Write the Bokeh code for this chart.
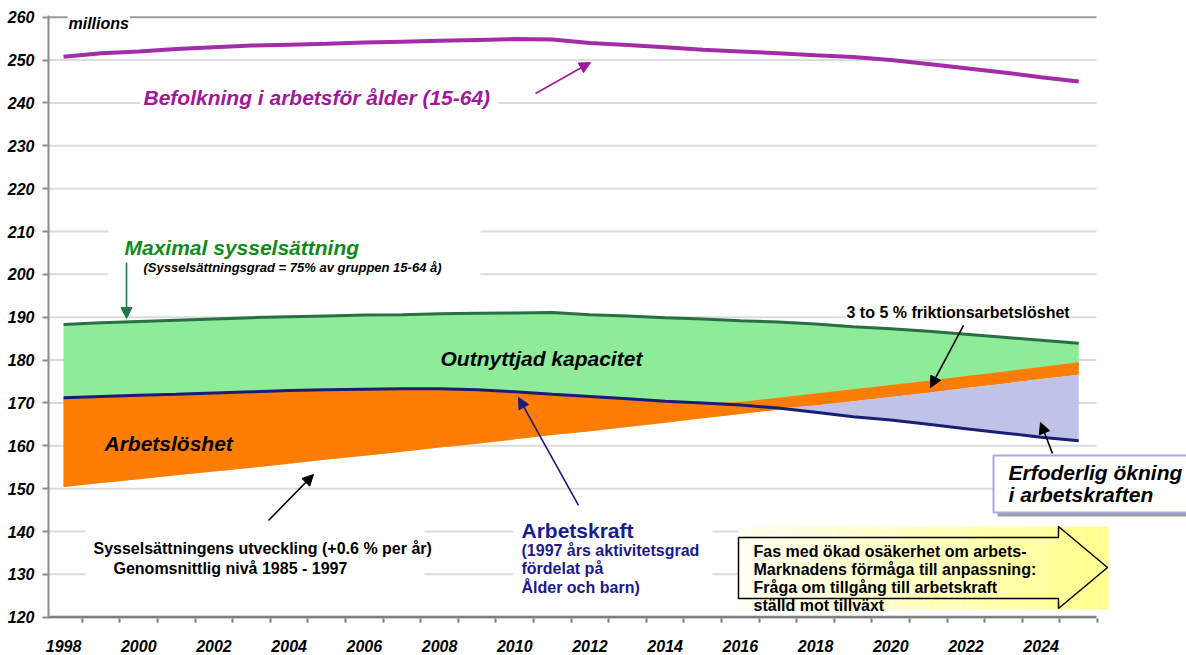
import numpy as np
from bokeh.plotting import figure
from bokeh.models import Range1d, FixedTicker, Label, Arrow, NormalHead
from bokeh.embed import file_html
from bokeh.resources import INLINE

# ---------------- data (millions) ----------------
years = list(range(1998, 2026))
population_15_64 = [250.8, 251.6, 252.0, 252.6, 253.0, 253.4, 253.6, 253.8, 254.1, 254.3,
                    254.5, 254.7, 254.9, 254.8, 254.0, 253.5, 253.0, 252.4, 252.0, 251.6,
                    251.1, 250.7, 250.0, 249.1, 248.1, 247.1, 246.0, 245.0]
max_employment = [188.3, 188.7, 189.0, 189.3, 189.6, 189.9, 190.1, 190.3, 190.5, 190.6,
                  190.8, 190.9, 191.0, 191.1, 190.6, 190.3, 189.9, 189.6, 189.2, 188.9,
                  188.4, 187.8, 187.3, 186.7, 186.0, 185.3, 184.6, 183.9]
labour_force = [171.2, 171.5, 171.8, 172.0, 172.3, 172.6, 172.9, 173.1, 173.2, 173.3,
                173.3, 173.1, 172.6, 172.0, 171.5, 171.0, 170.4, 170.0, 169.5, 168.8,
                167.8, 166.8, 166.0, 165.0, 164.0, 163.0, 162.0, 161.2]
employment_trend = [150.4, 151.3, 152.2, 153.1, 154.0, 154.9, 155.8, 156.8, 157.7, 158.6,
                    159.6, 160.5, 161.5, 162.5, 163.4, 164.4, 165.4, 166.4, 167.4, 168.4,
                    169.4, 170.4, 171.4, 172.4, 173.5, 174.5, 175.6, 176.6]
unemployment_top = [171.2, 171.5, 171.8, 172.0, 172.3, 172.6, 172.9, 173.1, 173.2, 173.3,
                    173.3, 173.1, 172.6, 172.0, 171.5, 171.0, 170.4, 170.0, 170.2, 171.2,
                    172.2, 173.2, 174.2, 175.2, 176.3, 177.3, 178.4, 179.5]
y_ticks = [120, 130, 140, 150, 160, 170, 180, 190, 200, 210, 220, 230, 240, 250, 260]
x_label_years = [y for y in years if y % 2 == 0 and y < 2025]

FONT = "Liberation Sans"

# ---------------- geometry helpers (reference pixel -> data) ----------------
XS, PPY = 1997.6, 37.6
def X(px):
    return XS + (px - 48) / PPY

YT, PPU = 260.4, 4.286
def Y(py):
    return YT - (py - 15) / PPU

p = figure(width=1186, height=655, output_backend="svg", toolbar_location=None,
           x_range=Range1d(XS, XS + 1138 / PPY), y_range=Range1d(119.7, YT),
           min_border_left=48, min_border_right=0, min_border_top=15, min_border_bottom=37)
p.outline_line_color = None
p.grid.visible = False
p.background_fill_color = "white"

# ---------- axes ----------
p.yaxis.ticker = FixedTicker(ticks=y_ticks)
p.yaxis.axis_line_color = "#8c8c8c"
p.yaxis.axis_line_width = 2
p.yaxis.major_tick_line_color = "#8c8c8c"
p.yaxis.major_tick_line_width = 2
p.yaxis.major_tick_out = 6
p.yaxis.major_tick_in = 0
p.yaxis.minor_tick_line_color = None
p.yaxis.major_label_standoff = 8
p.yaxis.major_label_text_font = FONT
p.yaxis.major_label_text_font_style = "bold italic"
p.yaxis.major_label_text_font_size = "16px"
p.yaxis.major_label_text_color = "black"

p.xaxis.ticker = FixedTicker(ticks=x_label_years, minor_ticks=[y + 0.5 for y in years])
p.xaxis.axis_line_color = None
p.xaxis.major_tick_out = 0
p.xaxis.major_tick_in = 0
p.xaxis.minor_tick_out = 4
p.xaxis.minor_tick_in = 0
p.xaxis.minor_tick_line_color = "#7a7a7a"
p.xaxis.minor_tick_line_width = 2
p.xaxis.major_label_standoff = 17
p.xaxis.major_label_text_font = FONT
p.xaxis.major_label_text_font_style = "bold italic"
p.xaxis.major_label_text_font_size = "16px"
p.xaxis.major_label_text_color = "black"

# ---------- gridlines (stop where the reference plot area ends) ----------
grid_vals = y_ticks[1:-1]
p.segment(x0=[X(48)] * len(grid_vals), x1=[X(1096)] * len(grid_vals), y0=grid_vals, y1=grid_vals,
          line_color="#dcdcdc", line_width=2)
p.segment(x0=[X(48)], x1=[X(1096)], y0=[y_ticks[-1]], y1=[y_ticks[-1]], line_color="#9a9a9a", line_width=2)
p.segment(x0=[X(48)], x1=[X(1096)], y0=[y_ticks[0]], y1=[y_ticks[0]], line_color="#808080", line_width=3)

# ---------- white text backgrounds ----------
p.quad(left=[X(108)], right=[X(480)], top=[Y(227)], bottom=[Y(279)], fill_color="white", line_color=None)
p.quad(left=[X(85)], right=[X(424)], top=[Y(527)], bottom=[Y(582)], fill_color="white", line_color=None)
p.quad(left=[X(513)], right=[X(712)], top=[Y(514)], bottom=[Y(600)], fill_color="white", line_color=None)
p.quad(left=[X(140)], right=[X(498)], top=[Y(86)], bottom=[Y(110)], fill_color="white", line_color=None)

# ---------- areas ----------
emp = np.array(employment_trend)
lab = np.array(labour_force)
p.varea(x=years, y1=employment_trend, y2=max_employment, fill_color="#8eeb98")
p.varea(x=years, y1=employment_trend, y2=unemployment_top, fill_color="#ff7d05")
p.varea(x=years, y1=labour_force, y2=np.maximum(emp, lab), fill_color="#c0c2e8")

# ---------- lines ----------
p.line(years, labour_force, line_color="#1c1c78", line_width=3)
p.line(years, max_employment, line_color="#2a6e44", line_width=3)
p.line(years, population_15_64, line_color="#a42ca8", line_width=4)

# ---------- yellow arrow box ----------
n = 60
edges = np.linspace(738, 1108, n + 1)
c0, c1 = np.array([255, 255, 242]), np.array([255, 255, 140])
cols = ["#%02x%02x%02x" % tuple(int(v) for v in (c0 + (c1 - c0) * t)) for t in np.linspace(0, 1, n)]
p.quad(left=[X(e) for e in edges[:-1]], right=[X(e) for e in edges[1:]],
       top=[Y(526)] * n, bottom=[Y(609)] * n, fill_color=cols, line_color=None)
ax = [738, 1058, 1058, 1107, 1058, 1058, 738, 738]
ay = [537, 537, 526, 567, 608, 598, 598, 537]
p.line([X(v) for v in ax], [Y(v) for v in ay], line_color="black", line_width=1.5)

# ---------- Erfoderlig box ----------
p.quad(left=[X(997)], right=[X(1200)], top=[Y(459)], bottom=[Y(516)], fill_color="#a0a0a0", line_color=None)
p.quad(left=[X(993)], right=[X(1200)], top=[Y(455)], bottom=[Y(512)], fill_color="white",
       line_color="#a8a8e6", line_width=2)

# ---------- labels ----------
def lab_(px, py, text, size, color="black", style="bold italic", bg=None):
    kw = dict(x=X(px), y=Y(py), text=text, text_font=FONT, text_font_size=size,
              text_font_style=style, text_color=color, text_baseline="middle", text_align="left")
    if bg:
        kw.update(background_fill_color=bg, padding=1)
    p.add_layout(Label(**kw))

lab_(67, 23, "millions", "16px", bg="white")
lab_(143, 97, "Befolkning i arbetsför ålder (15-64)", "21px", color="#a0189c")
lab_(124, 247, "Maximal sysselsättning", "21px", color="#13891b")
lab_(143, 267, "(Sysselsättningsgrad = 75% av gruppen 15-64 å)", "13px")
lab_(440, 358, "Outnyttjad kapacitet", "21px")
lab_(104, 443, "Arbetslöshet", "21px")
lab_(93, 548, "Sysselsättningens utveckling (+0.6 % per år)", "16px", style="bold")
lab_(113, 568, "Genomsnittlig nivå 1985 - 1997", "16px", style="bold")
lab_(521, 530, "Arbetskraft", "21px", color="#1a1a90", style="bold")
lab_(521, 550, "(1997 års aktivitetsgrad", "16px", color="#1a1a90", style="bold")
lab_(521, 568, "fördelat på", "16px", color="#1a1a90", style="bold")
lab_(521, 587, "Ålder och barn)", "16px", color="#1a1a90", style="bold")
lab_(845, 312, "3 to 5 % friktionsarbetslöshet", "16px", style="bold", bg="white")
lab_(1008, 472, "Erfoderlig ökning", "21px")
lab_(1008, 494, "i arbetskraften", "21px")
for py, t in zip([551, 569, 587, 605], ["Fas med ökad osäkerhet om arbets-",
                                         "Marknadens förmåga till anpassning:",
                                         "Fråga om tillgång till arbetskraft",
                                         "ställd mot tillväxt"]):
    lab_(753, py, t, "16px", style="bold")

# ---------- arrows ----------
def arrow(x0, y0, x1, y1, color):
    p.add_layout(Arrow(end=NormalHead(size=11, fill_color=color, line_color=color),
                       x_start=X(x0), y_start=Y(y0), x_end=X(x1), y_end=Y(y1),
                       line_color=color, line_width=1.6))

arrow(535, 93, 590, 62, "#a0189c")
arrow(126, 262, 126, 318, "#1e7a44")
arrow(268, 520, 313, 474, "black")
arrow(578, 505, 518, 397, "#1a1a80")
arrow(963, 325, 930, 387, "black")
arrow(1052, 453, 1040, 422, "black")

open("out.html", "w").write(file_html(p, INLINE))
